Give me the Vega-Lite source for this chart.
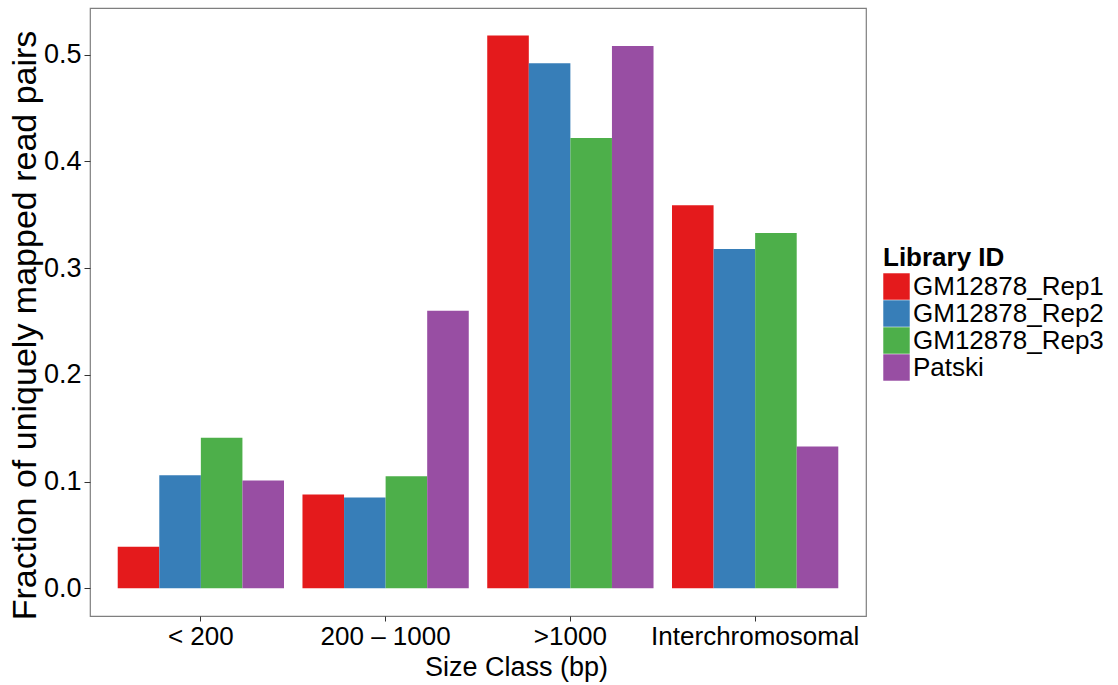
{
  "$schema": "https://vega.github.io/schema/vega-lite/v6.json",
  "width": 776,
  "height": 608,
  "autosize": "none",
  "padding": {"left": 90, "top": 8, "right": 252, "bottom": 69},
  "background": "white",
  "config": {
    "font": "Liberation Sans",
    "view": {"stroke": "#7f7f7f", "strokeWidth": 1.2}
  },
  "data": {
    "values": [
      {"size_class": "< 200", "library": "GM12878_Rep1", "fraction": 0.039},
      {"size_class": "< 200", "library": "GM12878_Rep2", "fraction": 0.106},
      {"size_class": "< 200", "library": "GM12878_Rep3", "fraction": 0.141},
      {"size_class": "< 200", "library": "Patski", "fraction": 0.101},
      {"size_class": "200 – 1000", "library": "GM12878_Rep1", "fraction": 0.088},
      {"size_class": "200 – 1000", "library": "GM12878_Rep2", "fraction": 0.085},
      {"size_class": "200 – 1000", "library": "GM12878_Rep3", "fraction": 0.105},
      {"size_class": "200 – 1000", "library": "Patski", "fraction": 0.26},
      {"size_class": ">1000", "library": "GM12878_Rep1", "fraction": 0.518},
      {"size_class": ">1000", "library": "GM12878_Rep2", "fraction": 0.492},
      {"size_class": ">1000", "library": "GM12878_Rep3", "fraction": 0.422},
      {"size_class": ">1000", "library": "Patski", "fraction": 0.508},
      {"size_class": "Interchromosomal", "library": "GM12878_Rep1", "fraction": 0.359},
      {"size_class": "Interchromosomal", "library": "GM12878_Rep2", "fraction": 0.318},
      {"size_class": "Interchromosomal", "library": "GM12878_Rep3", "fraction": 0.333},
      {"size_class": "Interchromosomal", "library": "Patski", "fraction": 0.133}
    ]
  },
  "mark": {"type": "bar"},
  "encoding": {
    "x": {
      "field": "size_class",
      "type": "nominal",
      "sort": ["< 200", "200 – 1000", ">1000", "Interchromosomal"],
      "scale": {"paddingInner": 0.1, "paddingOuter": 0.15},
      "axis": {
        "title": "Size Class (bp)",
        "labelAngle": 0,
        "labelFontSize": 26,
        "labelLimit": 0,
        "labelColor": "black",
        "labelPadding": 2,
        "tickSize": 5,
        "tickColor": "#333333",
        "domain": false,
        "titleFontSize": 27,
        "titleFontWeight": "normal",
        "titleColor": "black",
        "titleX": 426,
        "titleY": 59,
        "titleBaseline": "alphabetic"
      }
    },
    "xOffset": {
      "field": "library",
      "type": "nominal",
      "sort": ["GM12878_Rep1", "GM12878_Rep2", "GM12878_Rep3", "Patski"],
      "scale": {"paddingInner": 0, "paddingOuter": 0}
    },
    "y": {
      "field": "fraction",
      "type": "quantitative",
      "scale": {"domain": [-0.0259, 0.5437], "nice": false, "zero": false},
      "axis": {
        "title": "Fraction of uniquely mapped read pairs",
        "values": [0, 0.1, 0.2, 0.3, 0.4, 0.5],
        "format": ".1f",
        "grid": false,
        "domain": false,
        "labelFontSize": 27,
        "labelColor": "black",
        "labelPadding": 3,
        "tickSize": 6,
        "tickColor": "#333333",
        "titleFontSize": 34,
        "titleFontWeight": "normal",
        "titleColor": "black",
        "titleX": -55,
        "titleY": 317,
        "titleBaseline": "alphabetic"
      }
    },
    "y2": {"datum": 0},
    "color": {
      "field": "library",
      "type": "nominal",
      "sort": ["GM12878_Rep1", "GM12878_Rep2", "GM12878_Rep3", "Patski"],
      "scale": {"range": ["#E41A1C", "#377EB8", "#4DAF4A", "#984EA3"]},
      "legend": {
        "title": "Library ID",
        "orient": "none",
        "legendX": 793,
        "legendY": 237,
        "padding": 0,
        "titleFontSize": 26,
        "titleFontWeight": "bold",
        "titleColor": "black",
        "titlePadding": 2,
        "titleLimit": 0,
        "labelFontSize": 26,
        "labelLimit": 0,
        "labelColor": "black",
        "labelOffset": 3,
        "symbolType": "square",
        "symbolSize": 700,
        "symbolStrokeWidth": 0,
        "rowPadding": 0
      }
    }
  }
}
